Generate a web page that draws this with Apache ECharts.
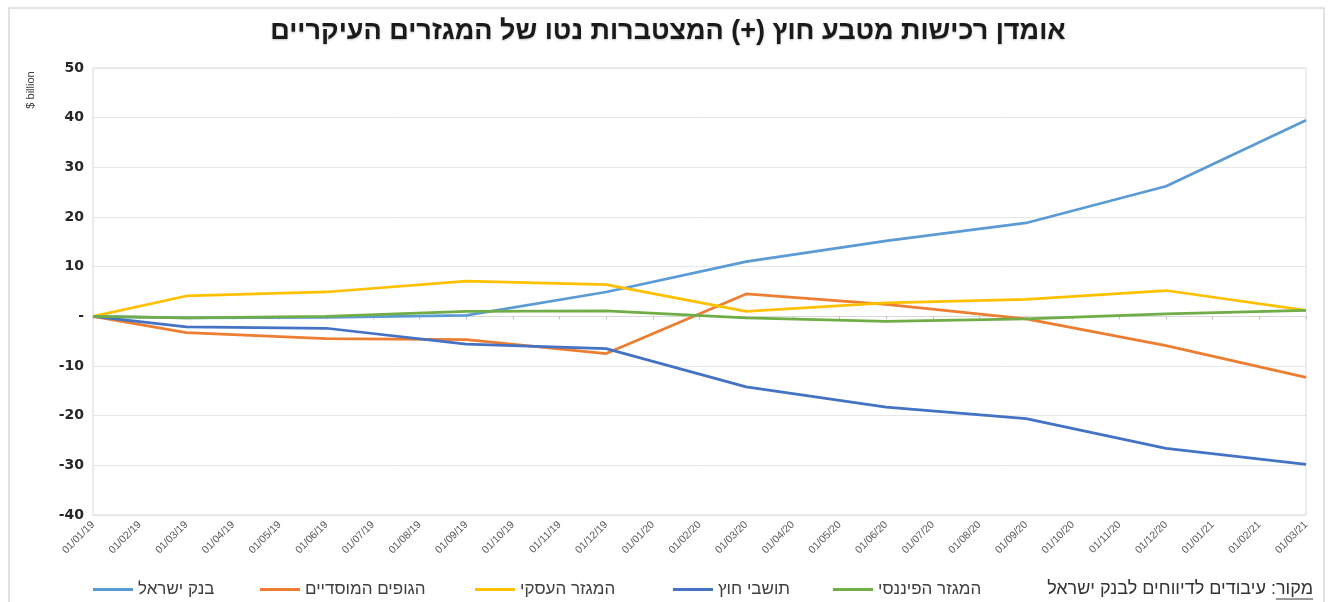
<!DOCTYPE html>
<html><head><meta charset="utf-8">
<script src="https://cdn.jsdelivr.net/npm/echarts@6/dist/echarts.min.js"></script>
<style>html,body{margin:0;padding:0;background:#fff}#c{width:1336px;height:602px}</style>
</head><body><div id="c"></div>
<script>
const categories = ['01/01/19','01/02/19','01/03/19','01/04/19','01/05/19','01/06/19','01/07/19','01/08/19','01/09/19','01/10/19','01/11/19','01/12/19','01/01/20','01/02/20','01/03/20','01/04/20','01/05/20','01/06/20','01/07/20','01/08/20','01/09/20','01/10/20','01/11/20','01/12/20','01/01/21','01/02/21','01/03/21'];
const pointDates = ['01/01/19','01/03/19','01/06/19','01/09/19','01/12/19','01/03/20','01/06/20','01/09/20','01/12/20','01/03/21'];
const seriesNames = ['בנק ישראל','הגופים המוסדיים','המגזר העסקי','תושבי חוץ','המגזר הפיננסי'];
const bankOfIsrael   = [0, -0.3, -0.2, 0.2, 4.9, 11.0, 15.2, 18.8, 26.2, 39.5];
const institutional  = [0, -3.3, -4.5, -4.7, -7.5, 4.5, 2.4, -0.5, -5.9, -12.3];
const business       = [0, 4.1, 4.9, 7.1, 6.4, 1.0, 2.7, 3.4, 5.2, 1.2];
const foreignRes     = [0, -2.1, -2.4, -5.6, -6.5, -14.2, -18.3, -20.6, -26.6, -29.8];
const financial      = [0, -0.3, 0.0, 1.0, 1.1, -0.3, -1.0, -0.5, 0.5, 1.2];
const colors = ['#5B9BD5','#ED7D31','#FFC000','#4472C4','#70AD47'];
const yTicks = {min:-40, max:50, interval:10};
const titleText = 'אומדן רכישות מטבע חוץ (+) המצטברות נטו של המגזרים העיקריים';
const sourceLabel = 'מקור';
const sourceText = sourceLabel + ': עיבודים לדיווחים לבנק ישראל';
const unitText = '$ billion';

const allValues = [bankOfIsrael, institutional, business, foreignRes, financial];
const hebFont = "'Liberation Sans', Arial, sans-serif";
const legendLefts = [88, 255, 470, 668, 828];
const srcSize = 18;

const mctx = document.createElement('canvas').getContext('2d');
mctx.font = srcSize + "px 'Liberation Sans'";
const underlineW = mctx.measureText(sourceLabel).width;

const chart = echarts.init(document.getElementById('c'));
chart.setOption({
  animation: false,
  color: colors,
  title: {
    text: titleText, left: 'center', top: 13,
    textStyle: {fontFamily: hebFont, fontWeight: 'bold', fontSize: 27, color: '#1a1a1a',
      textShadowColor: 'rgba(0,0,0,0.25)', textShadowBlur: 2, textShadowOffsetY: 1}
  },
  grid: {left: 93, right: 30, top: 68, height: 447, containLabel: false,
    show: true, borderColor: '#D9D9D9', borderWidth: 1},
  legend: seriesNames.map((n, i) => ({
    left: legendLefts[i], top: 576, itemWidth: 40, itemHeight: 3, icon: 'rect', itemGap: 0,
    textStyle: {fontFamily: hebFont, fontSize: 17, color: '#404040'},
    data: [n]
  })),
  xAxis: [{
    type: 'category', data: categories, boundaryGap: false,
    axisLine: {show: false, onZero: false},
    axisTick: {show: false},
    axisLabel: {rotate: 45, interval: 0, fontSize: 10.5, color: '#595959', fontFamily: "'Liberation Sans', sans-serif", margin: 8},
    splitLine: {show: false}
  }, {
    type: 'category', data: categories, boundaryGap: false, position: 'bottom',
    axisLine: {show: true, onZero: true, lineStyle: {color: '#D9D9D9'}},
    axisTick: {show: true, length: 3, interval: 0, lineStyle: {color: '#BFBFBF'}},
    axisLabel: {show: false}
  }],
  yAxis: {
    type: 'value', min: yTicks.min, max: yTicks.max, interval: yTicks.interval,
    axisLine: {show: false}, axisTick: {show: false},
    axisLabel: {fontFamily: "'DejaVu Sans', sans-serif", fontWeight: 'bold', fontSize: 14, color: '#262626',
      margin: 9, formatter: v => v === 0 ? '-' : String(v)},
    splitLine: {lineStyle: {color: '#E6E6E6', width: 1}}
  },
  series: seriesNames.map((n, i) => ({
    name: n, type: 'line', xAxisIndex: 0, showSymbol: false, symbol: 'none',
    lineStyle: {width: 2.75, color: colors[i]},
    data: pointDates.map((d, j) => [d, allValues[i][j]])
  })),
  graphic: [
    {type: 'rect', shape: {x: 9, y: 8, width: 1315, height: 610}, style: {fill: 'none', stroke: '#D9D9D9', lineWidth: 1.5}, silent: true},
    {type: 'text', x: 31, y: 90, rotation: Math.PI/2, style: {text: unitText, fontFamily: "'Liberation Sans', sans-serif", fontSize: 11, fill: '#404040', align: 'center', verticalAlign: 'middle'}},
    {type: 'text', x: 1313, y: 589, style: {text: sourceText, fontFamily: hebFont, fontSize: srcSize, fill: '#333', align: 'right', verticalAlign: 'middle'}},
    {type: 'line', shape: {x1: 1313 - underlineW, y1: 599, x2: 1313, y2: 599}, style: {stroke: '#333', lineWidth: 1}}
  ]
});
</script></body></html>
